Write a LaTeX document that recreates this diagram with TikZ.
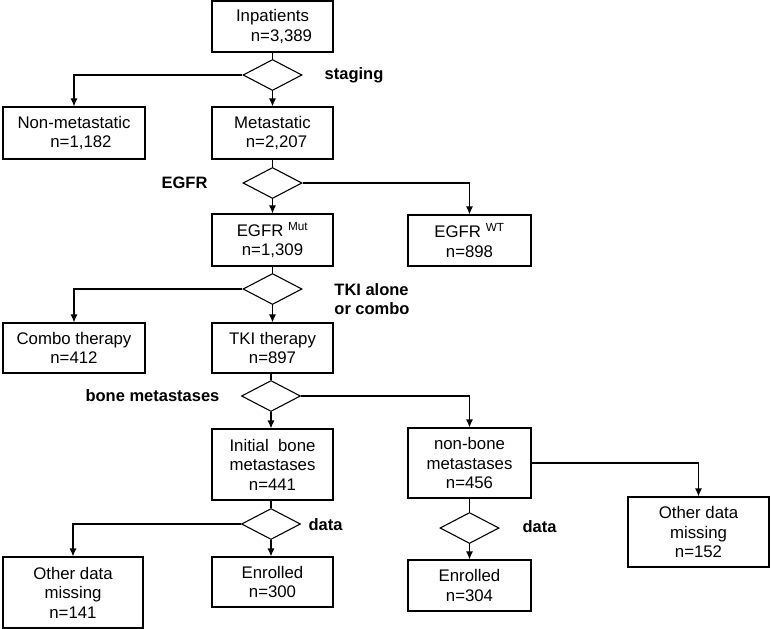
\documentclass[tikz,border=0pt]{standalone}
\usepackage{fontspec}
\setmainfont{Liberation Sans}
\usetikzlibrary{shapes.geometric, arrows.meta}
\tikzset{
    box/.style={draw, line width=1.1pt, align=center, inner sep=0pt, font=\fontsize{16.8}{19.5}\selectfont},
    decision/.style={draw, diamond, line width=1.1pt, inner sep=0pt, minimum width=59pt, minimum height=31pt},
    lbl/.style={font=\fontsize{16.5}{19.5}\selectfont\bfseries, align=left},
    flow/.style={line width=1.1pt},
    arr/.style={flow, -{Latex[length=8pt, width=7pt]}}
}

\begin{document}
\begin{tikzpicture}[x=1pt, y=-1pt]
    % canvas
    \useasboundingbox (0,0) rectangle (771,629);
    % boxes
    \node[box, minimum width=121pt, minimum height=51pt] (inp) at (272.5,26.5) {Inpatients\\\hspace*{18pt}n=3,389};
    \node[box, minimum width=142pt, minimum height=52pt] (nonmet) at (74,133) {Non-metastatic\\\hspace*{14pt}n=1,182};
    \node[box, minimum width=121pt, minimum height=52pt] (met) at (272.5,133) {Metastatic\\\hspace*{8pt}n=2,207};
    \node[box, minimum width=121pt, minimum height=52pt] (mut) at (272.5,240) {EGFR \textsuperscript{Mut}\\n=1,309};
    \node[box, minimum width=123pt, minimum height=51pt] (wt) at (469.5,240.5) {EGFR \textsuperscript{WT}\\n=898};
    \node[box, minimum width=142pt, minimum height=50pt] (combo) at (74,348) {Combo therapy\\n=412};
    \node[box, minimum width=121pt, minimum height=50pt] (tki) at (272.5,348) {TKI therapy\\n=897};
    \node[box, minimum width=121pt, minimum height=71pt] (ibone) at (272.5,464.5) {Initial\ \ bone\\metastases\\n=441};
    \node[box, minimum width=123pt, minimum height=70pt] (nbone) at (469.5,463) {non-bone\\metastases\\n=456};
    \node[box, minimum width=141pt, minimum height=70pt] (miss152) at (698.5,532) {Other data\\missing\\n=152};
    \node[box, minimum width=140pt, minimum height=71pt] (miss141) at (73,592.5) {Other data\\missing\\n=141};
    \node[box, minimum width=121pt, minimum height=50pt] (enr300) at (272.5,582) {Enrolled\\n=300};
    \node[box, minimum width=123pt, minimum height=51pt] (enr304) at (469.5,585.5) {Enrolled\\n=304};
    % decisions
    \node[decision] (stg) at (272.5,75) {};
    \node[decision] (egfr) at (272.5,183) {};
    \node[decision] (combochk) at (272.5,289) {};
    \node[decision] (bonechk) at (271,396) {};
    \node[decision] (datal) at (271,524) {};
    \node[decision] (datar) at (469.5,528) {};
    % labels
    \node[lbl] (stglbl) at (354,75) {staging};
    \node[lbl] (egfrlbl) at (184.5,183) {EGFR};
    \node[lbl] (combolbl) at (372,299) {TKI alone\\or combo};
    \node[lbl] (bonelbl) at (152.5,396) {bone metastases};
    \node[lbl] (datallbl) at (325.5,525) {data};
    \node[lbl] (datarlbl) at (539.5,527) {data};
    % connectors
    \draw[flow] (inp) -- (stg);
    \draw[arr] (stg) -- (met);
    \draw[arr] (stg.west) -| (nonmet.north);
    \draw[flow] (met) -- (egfr);
    \draw[arr] (egfr) -- (mut);
    \draw[arr] (egfr.east) -| (wt.north);
    \draw[flow] (mut) -- (combochk);
    \draw[arr] (combochk) -- (tki);
    \draw[arr] (combochk.west) -| (combo.north);
    \draw[flow] (tki.south -| bonechk) -- (bonechk);
    \draw[arr] (bonechk) -- (bonechk |- ibone.north);
    \draw[arr] (bonechk.east) -| (nbone.north);
    \draw[flow] (ibone.south -| datal) -- (datal);
    \draw[arr] (datal) -- (datal |- enr300.north);
    \draw[arr] (datal.west) -| (miss141.north);
    \draw[flow] (nbone) -- (datar);
    \draw[arr] (datar) -- (enr304);
    \draw[arr] (nbone.east) -| (miss152.north);
\end{tikzpicture}
\end{document}
